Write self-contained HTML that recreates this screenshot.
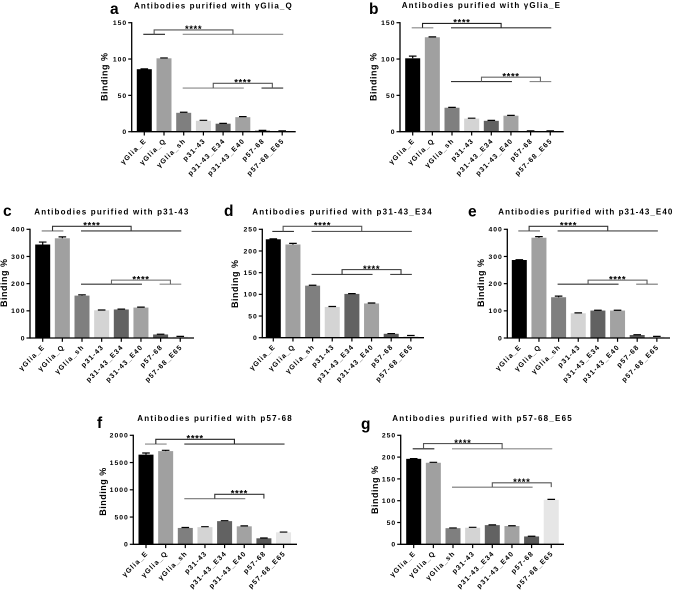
<!DOCTYPE html>
<html lang="en">
<head>
<meta charset="utf-8">
<title>Antibody binding bar charts</title>
<style>
html,body{margin:0;padding:0;background:#fff;width:677px;height:593px;overflow:hidden}
svg{display:block;filter:blur(0.35px)}
text{font-family:"Liberation Sans","DejaVu Sans",sans-serif;fill:#000}
.title{font-size:8px;font-weight:700}
.letter{font-size:15.5px;font-weight:700;fill:#000}
.ylabel{font-size:9px;font-weight:700}
.tick{font-size:6.8px;font-weight:700;letter-spacing:1px}
.xtick{font-size:7px;font-weight:700;letter-spacing:1.1px}
.stars{font-size:9.5px;font-weight:700;letter-spacing:.6px}
</style>
</head>
<body>
<svg id="figure" xmlns="http://www.w3.org/2000/svg" width="677" height="593" viewBox="0 0 677 593"></svg>
<script>
const categoriesA = ['γGlia_E','γGlia_Q','γGlia_sh','p31-43','p31-43_E34','p31-43_E40','p57-68','p57-68_E65'];
const barColors = ['#000000','#a0a0a0','#7f7f7f','#d4d4d4','#626262','#a2a2a2','#585858','#e6e6e6'];

const valuesA = [86,101,26,15,11,20,1.5,1];
const errorsA = [0.5,0.5,0.8,0.7,0.5,0.7,0.3,0.2];
const ticksA = [0,50,100,150];
const levelsA = [134,140,60,66.6];

const valuesB = [101,130,33,18,15,22,1,1];
const errorsB = [3,0.5,0.5,0.6,0.6,0.5,0.2,0.2];
const ticksB = [0,50,100,150];
const levelsB = [143,149,69,75];

const valuesC = [344,367,156,102,105,112,13,5];
const errorsC = [9,5,3,1,1.5,1.5,1,1];
const ticksC = [0,100,200,300,400];
const levelsC = [394,411,198,213];

const valuesD = [227,215,120,71,101,79,9,4];
const errorsD = [1,2.5,1,1,0.7,1,0.5,1];
const ticksD = [0,50,100,150,200,250];
const levelsD = [245,257,146,157];

const valuesE = [287,369,150,91,101,101,11,5];
const errorsE = [1,4,4,1.5,1,1,1,1];
const ticksE = [0,100,200,300,400];
const levelsE = [394,411,198,213];

const valuesF = [1645,1710,300,315,425,330,110,220];
const errorsF = [30,15,8,8,8,8,5,5];
const ticksF = [0,500,1000,1500,2000];
const levelsF = [1840,1927,837,918];

const valuesG = [196,187,37,38,44,42,18,102];
const errorsG = [0.5,1,0.5,1,0.5,0.5,0.5,1];
const ticksG = [0,50,100,150,200,250];
const levelsG = [219,231,131,141];

const panels = [
 {id:'a',title:'Antibodies purified with γGlia_Q',values:valuesA,errors:errorsA,ticks:ticksA,levels:levelsA,
  ax:131.7,ay0:131.7,ayT:22.7,axEnd:295.7,c0:144.3,step:19.7,tx:134,tw:157.7,ty:8.3,lx:110,ly:14,ylx:107.7,yly:77,
  lowL:[2,5],lowR:[6,7],cols:['#222','#555','#888','#888','#555','#333']},
 {id:'b',title:'Antibodies purified with γGlia_E',values:valuesB,errors:errorsB,ticks:ticksB,levels:levelsB,
  ax:400,ay0:131.7,ayT:22.7,axEnd:563.7,c0:412.7,step:19.65,tx:401.7,tw:158.3,ty:8,lx:369,ly:14,ylx:376.3,yly:77,
  lowL:[2,5],lowR:[6,7],cols:['#888','#222','#333','#333','#666','#888']},
 {id:'c',title:'Antibodies purified with p31-43',values:valuesC,errors:errorsC,ticks:ticksC,levels:levelsC,
  ax:30,ay0:338,ayT:229.3,axEnd:194,c0:42.7,step:19.65,tx:34.3,tw:154,ty:214.7,lx:3,ly:216,ylx:7,yly:283,
  lowL:[2,5],lowR:[6,7],cols:['#777','#333','#333','#333','#666','#888']},
 {id:'d',title:'Antibodies purified with p31-43_E34',values:valuesD,errors:errorsD,ticks:ticksD,levels:levelsD,
  ax:262.3,ay0:337.7,ayT:229.3,axEnd:424,c0:273.3,step:19.65,tx:252.3,tw:179.4,ty:214.7,lx:224,ly:216,ylx:238,yly:284,
  lowL:[2,5],lowR:[6,7],cols:['#333','#555','#555','#444','#333','#444']},
 {id:'e',title:'Antibodies purified with p31-43_E40',values:valuesE,errors:errorsE,ticks:ticksE,levels:levelsE,
  ax:507.3,ay0:338,ayT:229.3,axEnd:670,c0:519.3,step:19.65,tx:498.3,tw:174,ty:214.7,lx:468,ly:216.7,ylx:484,yly:283,
  lowL:[2,5],lowR:[6,7],cols:['#666','#333','#444','#333','#555','#777']},
 {id:'f',title:'Antibodies purified with p57-68',values:valuesF,errors:errorsF,ticks:ticksF,levels:levelsF,
  ax:133.3,ay0:544.3,ayT:435.3,axEnd:297,c0:146,step:19.65,tx:137.3,tw:154.4,ty:421,lx:97,ly:428,ylx:106,yly:491.7,
  lowL:[2,5],lowR:[6,6],cols:['#888','#222','#333','#777','#333','#333']},
 {id:'g',title:'Antibodies purified with p57-68_E65',values:valuesG,errors:errorsG,ticks:ticksG,levels:levelsG,
  ax:400.7,ay0:544.3,ayT:435.3,axEnd:564,c0:413.7,step:19.65,tx:392.3,tw:179.4,ty:421,lx:361,ly:429,ylx:378,yly:490,
  lowL:[2,6],lowR:[7,7],cols:['#222','#555','#888','#777','#555','#555']}
];

const SVGNS = 'http://www.w3.org/2000/svg';
const figure = document.getElementById('figure');

function make(parent, tag, attrs, txt){
  const el = document.createElementNS(SVGNS, tag);
  for (const k in attrs) el.setAttribute(k, attrs[k]);
  if (txt !== undefined) el.textContent = txt;
  parent.appendChild(el);
  return el;
}
function mean(group){ return (group[0] + group[1]) / 2; }

panels.forEach(function(p){
  const maxTick = p.ticks[p.ticks.length - 1];
  const yScale = function(v){ return p.ay0 - (v / maxTick) * (p.ay0 - p.ayT); };
  const xScale = function(i){ return p.c0 + i * p.step; };

  const g = make(figure, 'g', {});
  
  

  const letter = make(g, 'text', {x:p.lx, y:p.ly, class:'letter'}, p.id);
  
  

  const title = make(g, 'text', {x:p.tx, y:p.ty, class:'title', textLength:p.tw, lengthAdjust:'spacing'}, p.title);
  
  

  const ylab = make(g, 'text', {x:0, y:0, class:'ylabel', 'text-anchor':'middle', textLength:48, lengthAdjust:'spacing',
    transform:'translate(' + p.ylx + ' ' + p.yly + ') rotate(-90)'}, 'Binding %');
  
  

  // bars and error bars
  p.values.forEach(function(v, i){
    const x = xScale(i), top = yScale(v), w = 15;
    const bar = make(g, 'rect', {x:x - w / 2, y:top, width:w, height:p.ay0 - top, fill:barColors[i]});
    
    
    const eTop = yScale(v + p.errors[i]);
    const err = make(g, 'path', {d:'M' + x + ' ' + top + 'V' + eTop + 'M' + (x - 3.8) + ' ' + eTop + 'H' + (x + 3.8),
      stroke:'#000', 'stroke-width':1.2, fill:'none'});
    
    
  });

  // axes
  const yAxis = make(g, 'line', {x1:p.ax, x2:p.ax, y1:p.ayT - 0.6, y2:p.ay0 + 0.6, stroke:'#000', 'stroke-width':1.3});
  
  
  const xAxis = make(g, 'line', {x1:p.ax, x2:p.axEnd, y1:p.ay0, y2:p.ay0, stroke:'#000', 'stroke-width':1.3});
  
  

  p.ticks.forEach(function(t){
    const y = yScale(t);
    const mark = make(g, 'line', {x1:p.ax - 3.5, x2:p.ax, y1:y, y2:y, stroke:'#000', 'stroke-width':1.2});
    
    
    const lab = make(g, 'text', {x:p.ax - 4.5, y:y + 2.4, class:'tick', 'text-anchor':'end'}, String(t));
    
    
  });

  categoriesA.forEach(function(c, i){
    const x = xScale(i);
    const mark = make(g, 'line', {x1:x, x2:x, y1:p.ay0, y2:p.ay0 + 3.8, stroke:'#000', 'stroke-width':1.2});
    
    
    const lab = make(g, 'text', {x:0, y:0, class:'xtick', 'text-anchor':'end',
      transform:'translate(' + (x + 2.5) + ' ' + (p.ay0 + 9.5) + ') rotate(-45)'}, c);
    
    
  });

  // significance brackets
  const lineY1 = yScale(p.levels[0]), topY1 = yScale(p.levels[1]);
  const lineY2 = yScale(p.levels[2]), topY2 = yScale(p.levels[3]);

  function hline(a, b, y, col, name){
    const l = make(g, 'line', {x1:xScale(a) - 1, x2:xScale(b) + 1, y1:y, y2:y, stroke:col, 'stroke-width':1.1});
    
    
  }
  function bracket(a, b, top, bottom, col, name){
    const x1 = xScale(a), x2 = xScale(b);
    const d = make(g, 'path', {d:'M' + x1 + ' ' + bottom + 'V' + top + 'H' + x2 + 'V' + bottom, fill:'none', stroke:col, 'stroke-width':1.1});
    
    
    const s = make(g, 'text', {x:(x1 + x2) / 2, y:top + 2.2, class:'stars', 'text-anchor':'middle'}, '****');
    
    
  }

  hline(0, 1, lineY1, p.cols[0], 'upper-left-group-line');
  hline(2, 7, lineY1, p.cols[2], 'upper-right-group-line');
  bracket(0.5, 4.5, topY1, lineY1, p.cols[1], 'upper-bracket');

  hline(p.lowL[0], p.lowL[1], lineY2, p.cols[3], 'lower-left-group-line');
  if (p.lowR[0] !== p.lowR[1]) {
    hline(p.lowR[0], p.lowR[1], lineY2, p.cols[5], 'lower-right-group-line');
  }
  bracket(mean(p.lowL), mean(p.lowR), topY2, lineY2, p.cols[4], 'lower-bracket');
});
</script>
</body>
</html>
